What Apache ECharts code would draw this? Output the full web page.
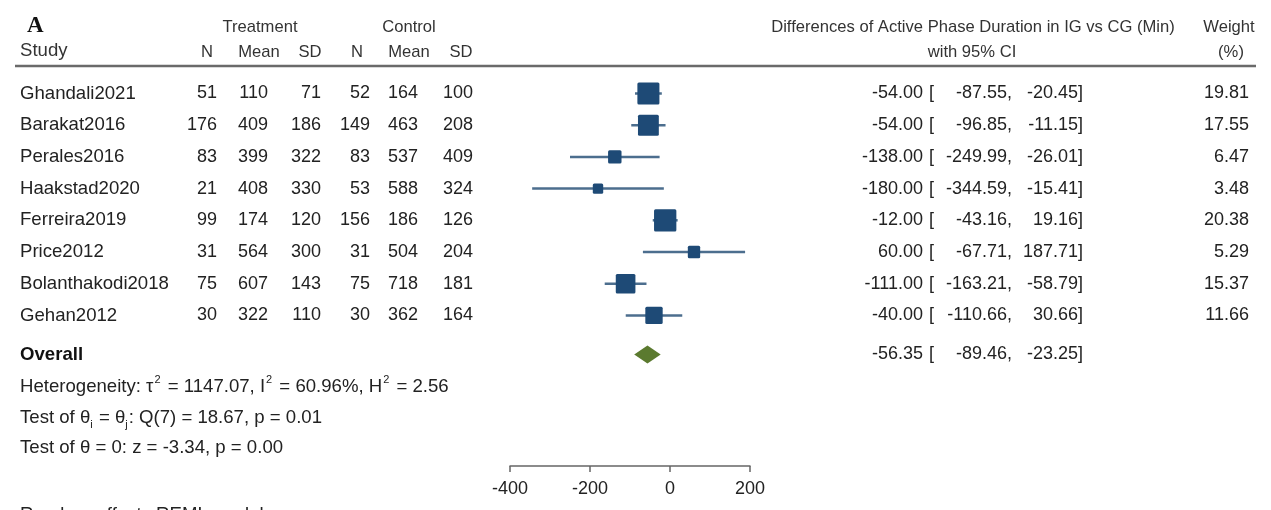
<!DOCTYPE html>
<html>
<head>
<meta charset="utf-8">
<script src="https://cdn.jsdelivr.net/npm/echarts@6/dist/echarts.min.js"></script>
<style>
html,body{margin:0;padding:0;background:#fff;}
#chart{width:1271px;height:510px;}
</style>
</head>
<body>
<div id="chart"></div>
<script>
// ---------- data ----------
const studies = ['Ghandali2021','Barakat2016','Perales2016','Haakstad2020','Ferreira2019','Price2012','Bolanthakodi2018','Gehan2012'];
const tN    = [51, 176, 83, 21, 99, 31, 75, 30];
const tMean = [110, 409, 399, 408, 174, 564, 607, 322];
const tSD   = [71, 186, 322, 330, 120, 300, 143, 110];
const cN    = [52, 149, 83, 53, 156, 31, 75, 30];
const cMean = [164, 463, 537, 588, 186, 504, 718, 362];
const cSD   = [100, 208, 409, 324, 126, 204, 181, 164];
const est   = [-54, -54, -138, -180, -12, 60, -111, -40];
const lo    = [-87.55, -96.85, -249.99, -344.59, -43.16, -67.71, -163.21, -110.66];
const hi    = [-20.45, -11.15, -26.01, -15.41, 19.16, 187.71, -58.79, 30.66];
const weight= [19.81, 17.55, 6.47, 3.48, 20.38, 5.29, 15.37, 11.66];
const overallLabel = 'Overall';
const overallEst = -56.35, overallLo = -89.46, overallHi = -23.25;
const xMin = -400, xMax = 200, xInterval = 200;
const statLines = [
  'Heterogeneity: τ{sup|2} = 1147.07, I{sup|2} = 60.96%, H{sup|2} = 2.56',
  'Test of θ{sub|i} = θ{sub|j}: Q(7) = 18.67, p = 0.01',
  'Test of θ = 0: z = -3.34, p = 0.00'
];
const modelNote = 'Random-effects REML model';

// ---------- layout ----------
const FONT = '"Liberation Sans", Arial, sans-serif';
const TXT = '#222';
const LBL = 18.6;   // size of word labels
const NUM = 18;     // size of numbers
const HDR = 16.6;   // header size
const ROW_H = 31.7, ROW0 = 93.5;
const OVERALL_ROW = studies.length + 0.23;
const Y_MIN = -1, AXIS_Y = 466;
const Y_MAX = Y_MIN + (AXIS_Y - (ROW0 - ROW_H)) / ROW_H;
const colRight = [217, 268, 321, 370, 418, 473];
const EST_R = 923, BR_L = 929, LO_R = 1012, HI_R = 1083, W_R = 1249;

function t(text, x, y, opts) {
  return {
    type: 'text',
    style: Object.assign({ text: text, x: x, y: y, fill: TXT, fontSize: NUM, fontFamily: FONT,
      align: 'left', verticalAlign: 'middle' }, opts || {})
  };
}
function fmt(v) { return v.toFixed(2); }

const chart = echarts.init(document.getElementById('chart'), null, { renderer: 'canvas' });

const rich = {
  sup: { fontSize: 11, fontFamily: FONT, fill: TXT, verticalAlign: 'top', lineHeight: 11, padding: [0, 2, 0, 1] },
  sub: { fontSize: 11, fontFamily: FONT, fill: TXT, verticalAlign: 'bottom', lineHeight: 11, padding: [0, 1, 0, 0] }
};

const graphics = [
  t('A', 27, 26, { fontFamily: '"Liberation Serif", "Times New Roman", serif', fontWeight: 'bold', fontSize: 23, fill: '#111' }),
  t('Treatment', 260, 27, { align: 'center', fontSize: HDR, fill: '#333' }),
  t('Control', 409, 27, { align: 'center', fontSize: HDR, fill: '#333' }),
  t('Study', 20, 51, { fill: '#333', fontSize: LBL }),
  t('N', 207, 52, { align: 'center', fontSize: HDR, fill: '#333' }),
  t('Mean', 259, 52, { align: 'center', fontSize: HDR, fill: '#333' }),
  t('SD', 310, 52, { align: 'center', fontSize: HDR, fill: '#333' }),
  t('N', 357, 52, { align: 'center', fontSize: HDR, fill: '#333' }),
  t('Mean', 409, 52, { align: 'center', fontSize: HDR, fill: '#333' }),
  t('SD', 461, 52, { align: 'center', fontSize: HDR, fill: '#333' }),
  t('Differences of Active Phase Duration in IG vs CG (Min)', 973, 27, { align: 'center', fontSize: HDR, fill: '#333' }),
  t('with 95% CI', 972, 52, { align: 'center', fontSize: HDR, fill: '#333' }),
  t('Weight', 1229, 27, { align: 'center', fontSize: HDR, fill: '#333' }),
  t('(%)', 1231, 52, { align: 'center', fontSize: HDR, fill: '#333' }),
  { type: 'line', shape: { x1: 15, y1: 66, x2: 1256, y2: 66 }, style: { stroke: '#6a6a6a', lineWidth: 2.5 } },
  t(modelNote, 20, 515, { verticalAlign: 'middle', fontSize: LBL })
];
statLines.forEach(function (s, k) {
  graphics.push({ type: 'text', style: { text: s, x: 20, y: [387, 418, 448][k], fill: TXT, fontSize: LBL,
    fontFamily: FONT, verticalAlign: 'middle', lineHeight: 25, rich: rich } });
});

const tableData = studies.map(function (s, i) { return [0, i]; });
const forestData = studies.map(function (s, i) { return [est[i], i, lo[i], hi[i], weight[i]]; });

chart.setOption({
  animation: false,
  grid: { left: 510, width: 240, top: ROW0 - ROW_H, height: AXIS_Y - (ROW0 - ROW_H) },
  xAxis: {
    type: 'value', min: xMin, max: xMax, interval: xInterval, position: 'bottom',
    axisLine: { show: true, onZero: false, lineStyle: { color: '#666', width: 1.5 } },
    axisTick: { show: true, length: 6, lineStyle: { color: '#666', width: 1.5 } },
    axisLabel: { fontSize: NUM, color: TXT, fontFamily: FONT, margin: 14 },
    splitLine: { show: false }
  },
  yAxis: { type: 'value', inverse: true, min: Y_MIN, max: Y_MAX, show: false },
  graphic: graphics,
  series: [
    {
      type: 'custom', clip: false, data: tableData, silent: true,
      renderItem: function (params, api) {
        const i = params.dataIndex;
        const y = api.coord([0, api.value(1)])[1];
        const vals = [tN[i], tMean[i], tSD[i], cN[i], cMean[i], cSD[i]];
        const ch = [t(studies[i], 20, y, { fontSize: LBL })];
        vals.forEach(function (v, k) { ch.push(t(String(v), colRight[k], y, { align: 'right' })); });
        ch.push(t(fmt(est[i]), EST_R, y, { align: 'right' }));
        ch.push(t('[', BR_L, y));
        ch.push(t(fmt(lo[i]) + ',', LO_R, y, { align: 'right' }));
        ch.push(t(fmt(hi[i]) + ']', HI_R, y, { align: 'right' }));
        ch.push(t(fmt(weight[i]), W_R, y, { align: 'right' }));
        return { type: 'group', children: ch };
      }
    },
    {
      type: 'custom', clip: false, data: forestData, silent: true,
      renderItem: function (params, api) {
        const p = api.coord([api.value(0), api.value(1)]);
        const l = api.coord([api.value(2), api.value(1)]);
        const h = api.coord([api.value(3), api.value(1)]);
        const s = 4.5 * Math.sqrt(api.value(4)) + 2;
        return { type: 'group', children: [
          { type: 'line', shape: { x1: l[0], y1: p[1], x2: h[0], y2: p[1] }, style: { stroke: '#4c6e8e', lineWidth: 2.5 } },
          { type: 'rect', shape: { x: p[0] - s / 2, y: p[1] - s / 2, width: s, height: s, r: 1.5 }, style: { fill: '#1e4a76' } }
        ] };
      }
    },
    {
      type: 'custom', clip: false, data: [[overallEst, OVERALL_ROW, overallLo, overallHi]], silent: true,
      renderItem: function (params, api) {
        const p = api.coord([api.value(0), api.value(1)]);
        const l = api.coord([api.value(2), api.value(1)]);
        const h = api.coord([api.value(3), api.value(1)]);
        const y = p[1];
        return { type: 'group', children: [
          { type: 'polygon', shape: { points: [[l[0], y], [p[0], y - 9], [h[0], y], [p[0], y + 9]] }, style: { fill: '#5b7a2f' } },
          t(overallLabel, 20, y, { fontWeight: 'bold', fill: '#111', fontSize: LBL }),
          t(fmt(overallEst), EST_R, y, { align: 'right' }),
          t('[', BR_L, y),
          t(fmt(overallLo) + ',', LO_R, y, { align: 'right' }),
          t(fmt(overallHi) + ']', HI_R, y, { align: 'right' })
        ] };
      }
    }
  ]
});
</script>
</body>
</html>
